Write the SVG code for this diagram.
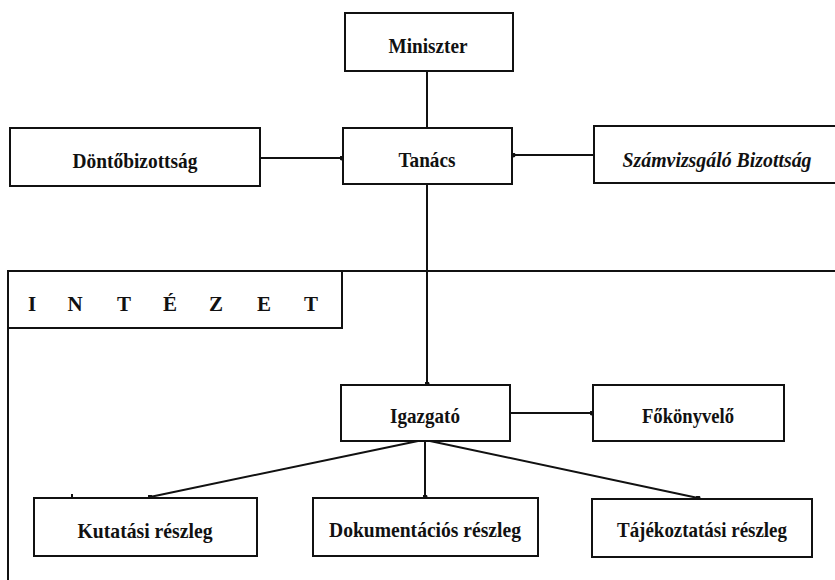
<svg xmlns="http://www.w3.org/2000/svg" width="835" height="580" viewBox="0 0 835 580">
<style>
.box{fill:#fff;stroke:#111;stroke-width:2}
.ln{fill:none;stroke:#111;stroke-width:2}
.t{font-family:"Liberation Serif","Times New Roman",serif;font-weight:bold;font-size:21px;fill:#111;text-anchor:middle}
</style>
<defs>
<marker id="dot" viewBox="0 0 6 6" refX="3" refY="3" markerWidth="5" markerHeight="5" markerUnits="userSpaceOnUse">
<circle cx="3" cy="3" r="3" fill="#111"/>
</marker>
</defs>
<rect width="835" height="580" fill="#fff"/>
<g id="frame">
<path class="ln" d="M8 580 V271 H835"/>
<path class="ln" d="M342 271 V328 H8"/>
<text class="t" y="311"><tspan x="32 75 124 170 216 264 311">INTÉZET</tspan></text>
</g>
<g id="connectors">
<line class="ln" x1="427" y1="71" x2="427" y2="128"/>
<line class="ln" x1="260" y1="158" x2="342" y2="158" marker-end="url(#dot)"/>
<line class="ln" x1="594" y1="155" x2="513" y2="155" marker-end="url(#dot)"/>
<line class="ln" x1="427" y1="184" x2="427" y2="384" marker-end="url(#dot)"/>
<line class="ln" x1="510" y1="413" x2="592" y2="413" marker-end="url(#dot)"/>
<line class="ln" x1="418" y1="441" x2="150" y2="497" marker-end="url(#dot)"/>
<line class="ln" x1="425" y1="441" x2="425" y2="497" marker-end="url(#dot)"/>
<line class="ln" x1="430" y1="441" x2="698" y2="498" marker-end="url(#dot)"/>
<line class="ln" x1="72" y1="494" x2="72" y2="498" stroke-width="1.5"/>
</g>
<g id="miniszter"><rect class="box" x="345" y="13" width="168" height="58"/><text class="t" x="428" y="53" textLength="79" lengthAdjust="spacingAndGlyphs">Miniszter</text></g>
<g id="tanacs"><rect class="box" x="343" y="128" width="169" height="56"/><text class="t" x="427" y="167" textLength="57" lengthAdjust="spacingAndGlyphs">Tanács</text></g>
<g id="dontobizottsag"><rect class="box" x="10" y="128" width="250" height="58"/><text class="t" x="135" y="168" textLength="125" lengthAdjust="spacingAndGlyphs">Döntőbizottság</text></g>
<g id="szamvizsgalo"><rect class="box" x="594" y="126" width="260" height="57"/><text class="t" x="717" y="167" font-style="italic" textLength="189" lengthAdjust="spacingAndGlyphs">Számvizsgáló Bizottság</text></g>
<g id="igazgato"><rect class="box" x="341" y="385" width="169" height="56"/><text class="t" x="425" y="423" textLength="70" lengthAdjust="spacingAndGlyphs">Igazgató</text></g>
<g id="fokonyvelo"><rect class="box" x="593" y="385" width="191" height="56"/><text class="t" x="688" y="423" textLength="92" lengthAdjust="spacingAndGlyphs">Főkönyvelő</text></g>
<g id="kutatasi"><rect class="box" x="34" y="498" width="223" height="58"/><text class="t" x="145" y="538" textLength="135" lengthAdjust="spacingAndGlyphs">Kutatási részleg</text></g>
<g id="dokumentacios"><rect class="box" x="313" y="498" width="225" height="58"/><text class="t" x="425" y="537" textLength="192" lengthAdjust="spacingAndGlyphs">Dokumentációs részleg</text></g>
<g id="tajekoztatasi"><rect class="box" x="592" y="499" width="220" height="58"/><text class="t" x="702" y="537" textLength="170" lengthAdjust="spacingAndGlyphs">Tájékoztatási részleg</text></g>
</svg>
